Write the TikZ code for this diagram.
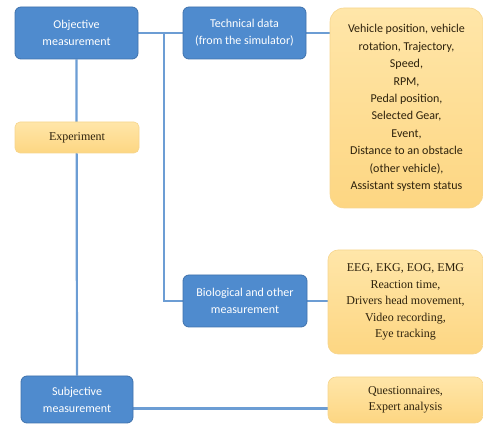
\documentclass[tikz,border=0pt]{standalone}
\usepackage{fontspec}
\setmainfont{Carlito}
\newfontfamily\boxserif{Liberation Serif}
\usetikzlibrary{positioning,backgrounds}

\definecolor{boxblue}{HTML}{4F8BCE}
\definecolor{boxblueline}{HTML}{3F72AC}
\definecolor{linkblue}{HTML}{6C9DD4}
\definecolor{boxgold}{HTML}{FDD682}
\definecolor{boxgoldtop}{HTML}{FFE6A9}
\definecolor{boxgoldline}{HTML}{F6D58E}
\definecolor{goldtext}{HTML}{2E220C}

\tikzset{
  bluebox/.style={draw=boxblueline, line width=0.8pt, fill=boxblue, rounded corners=6pt,
    text=white, align=center, inner sep=0pt, font=\fontsize{12}{17}\selectfont},
  goldbox/.style={draw=boxgoldline, line width=0.6pt, top color=boxgoldtop, bottom color=boxgold,
    text=goldtext, align=center, inner sep=0pt, font=\boxserif\fontsize{12}{16.5}\selectfont},
  link/.style={draw=linkblue, line width=2.2pt}
}

\begin{document}
\begin{tikzpicture}[x=1pt,y=-1pt]
	\useasboundingbox (0,0) rectangle (483,425);
	\node [bluebox, minimum width=123pt, minimum height=52pt] (obj) at (76.5,33) {Objective\\measurement};
	\node [bluebox, minimum width=123pt, minimum height=52pt] (tech) at (244.5,33) {Technical data\\(from the simulator)};
	\node [goldbox, rounded corners=14pt, minimum width=153pt, minimum height=200pt,
	  font=\fontsize{12}{17.4}\selectfont] (techdata) at (406.5,108)
	  {Vehicle position, vehicle\\rotation, Trajectory,\\Speed,\\RPM,\\Pedal position,\\Selected Gear,\\Event,\\Distance to an obstacle\\(other vehicle),\\Assistant system status};
	\node [goldbox, rounded corners=5pt, minimum width=124pt, minimum height=31pt] (exp) at (77,137.5) {Experiment};
	\node [bluebox, minimum width=124pt, minimum height=52pt] (bio) at (245,301) {Biological and other\\measurement};
	\node [goldbox, rounded corners=10pt, minimum width=155pt, minimum height=104pt] (biodata) at (405.5,302)
	  {EEG, EKG, EOG, EMG\\Reaction time,\\Drivers head movement,\\Video recording,\\Eye tracking};
	\node [bluebox, minimum width=112pt, minimum height=47pt] (subj) at (77,399.5) {Subjective\\measurement};
	\node [goldbox, rounded corners=8pt, minimum width=155pt, minimum height=46pt] (quest) at (405.5,400)
	  {Questionnaires,\\Expert analysis};
	\coordinate (split) at (164,33);
	\begin{pgfonlayer}{background}
		\draw [link] (obj.east) -- (tech.west);
		\draw [link] (tech.east) -- (tech.east -| techdata.west);
		\draw [link] (split) |- (bio.west);
		\draw [link] (bio.east) -- (bio.east -| biodata.west);
		\draw [link] (obj.south) -- (subj.north);
		\draw [link] ([yshift=-9pt]subj.east) -- ([yshift=-9pt]subj.east -| quest.west);
	\end{pgfonlayer}
\end{tikzpicture}
\end{document}
